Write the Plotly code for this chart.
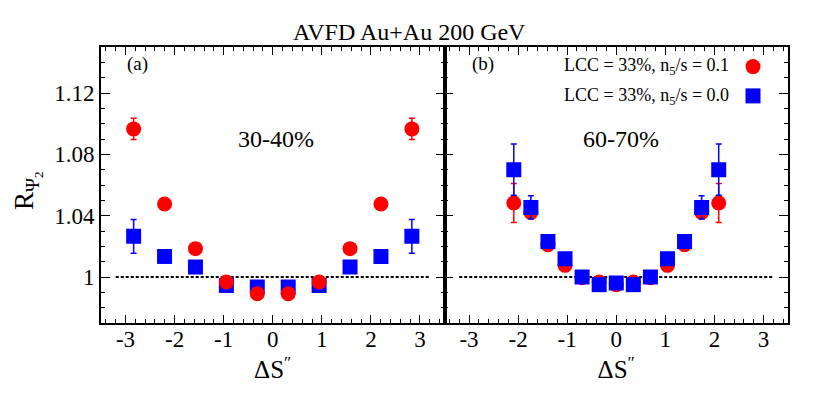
import plotly.graph_objects as go

# panel (a): 30-40%
xa = [-2.835, -2.205, -1.575, -0.945, -0.315, 0.315, 0.945, 1.575, 2.205, 2.835]
ya_red = [1.0966, 1.0476, 1.0185, 0.9967, 0.9891, 0.9891, 0.9967, 1.0185, 1.0476, 1.0966]
ea_red = [0.007, 0.0015, 0.0012, 0.001, 0.001, 0.001, 0.001, 0.0012, 0.0015, 0.007]
ya_blue = [1.0265, 1.0134, 1.0065, 0.9945, 0.9935, 0.9935, 0.9945, 1.0065, 1.0134, 1.0265]
ea_blue = [0.011, 0.002, 0.0015, 0.001, 0.001, 0.001, 0.001, 0.0015, 0.002, 0.011]

# panel (b): 60-70%
xb = [-2.088, -1.74, -1.392, -1.044, -0.696, -0.348, 0.0, 0.348, 0.696, 1.044, 1.392, 1.74, 2.088]
yb_red = [1.0483, 1.0421, 1.0211, 1.0076, 0.9995, 0.9967, 0.995, 0.9967, 0.9995, 1.0076, 1.0211, 1.0421, 1.0483]
eb_red = [0.0127, 0.003, 0.0015, 0.0012, 0.001, 0.001, 0.001, 0.001, 0.001, 0.0012, 0.0015, 0.003, 0.0127]
yb_blue = [1.070, 1.0454, 1.0232, 1.0119, 1.000, 0.995, 0.9961, 0.995, 1.000, 1.0119, 1.0232, 1.0454, 1.070]
eb_blue = [0.0167, 0.0076, 0.002, 0.0015, 0.001, 0.001, 0.001, 0.001, 0.001, 0.0015, 0.002, 0.0076, 0.0167]

ref_x = [-3.2, 3.2]
ref_y = [1.0, 1.0]

x_ticks = [-3, -2, -1, 0, 1, 2, 3]
x_labels = ["-3", "-2", "-1", "0", "1", "2", "3"]
y_ticks = [1.0, 1.04, 1.08, 1.12]
y_labels = ["1", "1.04", "1.08", "1.12"]

names = ["LCC = 33%, n<sub>5</sub>/s = 0.1", "LCC = 33%, n<sub>5</sub>/s = 0.0"]
SERIF = "Liberation Serif, Times New Roman, serif"
RED = "#ff0000"
BLUE = "#0000ff"

# the page body has an 8px margin, so work in reference pixels minus that
OFF = 8
W, H = 830 - OFF, 402 - OFF


def px(x):
    return (x - OFF) / W


def py(y):
    return 1 - (y - OFF) / H


def f(size):
    return dict(family=SERIF, size=size, color="black")


def pts(x, y, e, color, symbol, xaxis, yaxis, legend=None):
    return go.Scatter(
        x=x, y=y, mode="markers", xaxis=xaxis, yaxis=yaxis,
        marker=dict(color=color, symbol=symbol, size=15, line=dict(width=0)),
        error_y=dict(type="data", array=e, color=color, thickness=1.5, width=3),
        showlegend=legend is not None, legend=legend or "legend", name=" ",
    )


fig = go.Figure()
for xr, yr in [("x", "y"), ("x2", "y2")]:
    fig.add_trace(go.Scatter(x=ref_x, y=ref_y, mode="lines", xaxis=xr, yaxis=yr,
                             line=dict(color="black", width=2, dash="3px,2px"),
                             showlegend=False, hoverinfo="skip"))

# (a): blue below red
fig.add_trace(pts(xa, ya_blue, ea_blue, BLUE, "square", "x", "y"))
fig.add_trace(pts(xa, ya_red, ea_red, RED, "circle", "x", "y"))
# (b): red below blue
fig.add_trace(pts(xb, yb_red, eb_red, RED, "circle", "x2", "y2", legend="legend"))
fig.add_trace(pts(xb, yb_blue, eb_blue, BLUE, "square", "x2", "y2", legend="legend2"))

x0, xm, x1 = px(101), px(444.5), px(788)
ytop, ybot = py(47), py(323)

xax = dict(range=[-3.5, 3.5], tickmode="array", tickvals=x_ticks, ticktext=x_labels,
           ticks="inside", ticklen=8, tickwidth=1.2, tickcolor="black",
           minor=dict(tickmode="linear", tick0=0, dtick=0.2, ticks="inside", ticklen=4,
                      tickcolor="black"),
           showline=True, linecolor="black", linewidth=1.8, mirror="ticks",
           showgrid=False, zeroline=False, tickfont=f(23), ticklabelstandoff=-6,
           title=dict(text="ΔS<sup>″</sup>", font=f(25), standoff=0))
yax = dict(range=[0.97, 1.15], tickmode="array", tickvals=y_ticks, ticktext=y_labels,
           ticks="inside", ticklen=9, tickwidth=1.2, tickcolor="black",
           minor=dict(tickmode="linear", tick0=1, dtick=0.01, ticks="inside", ticklen=4,
                      tickcolor="black"),
           showline=True, linecolor="black", linewidth=1.8, mirror="ticks",
           showgrid=False, zeroline=False, tickfont=f(23))

leg = dict(xanchor="left", yanchor="middle", bgcolor="rgba(0,0,0,0)", font=f(16),
           itemsizing="trace")

fig.update_layout(
    width=W, height=H, margin=dict(l=0, r=0, t=0, b=0),
    paper_bgcolor="white", plot_bgcolor="white",
    font=f(18),
    xaxis=dict(xax, domain=[x0, xm], anchor="y"),
    xaxis2=dict(xax, domain=[xm, x1], anchor="y2"),
    yaxis=dict(yax, domain=[ybot, ytop], anchor="x"),
    yaxis2=dict(yax, domain=[ybot, ytop], anchor="x2", showticklabels=False),
    legend=dict(leg, x=px(753 - 20), y=py(66.7)),
    legend2=dict(leg, x=px(753 - 20), y=py(96)),
    showlegend=True,
)


def note(text, x, y, size, xanchor="center", **kw):
    return dict(text=text, x=x, y=y, xref=kw.pop("xref", "paper"), yref=kw.pop("yref", "paper"),
                xanchor=xanchor, yanchor="middle", showarrow=False, font=f(size), **kw)


ann = [
    note("AVFD Au+Au 200 GeV", px(409), py(32.5), 24),
    note("R<sub>Ψ<sub>2</sub></sub>", px(27), py(191), 27, textangle=-90),
    note("(a)", px(137), py(64), 19),
    note("(b)", px(483), py(64), 19),
    note("30-40%", 0.07, 1.09, 24, xref="x", yref="y"),
    note("60-70%", 0.1, 1.09, 24, xref="x2", yref="y2"),
    note(names[0], px(731), py(66.7), 18, xanchor="right"),
    note(names[1], px(731), py(96), 18, xanchor="right"),
]
fig.update_layout(annotations=ann)

fig.write_html("out.html")
